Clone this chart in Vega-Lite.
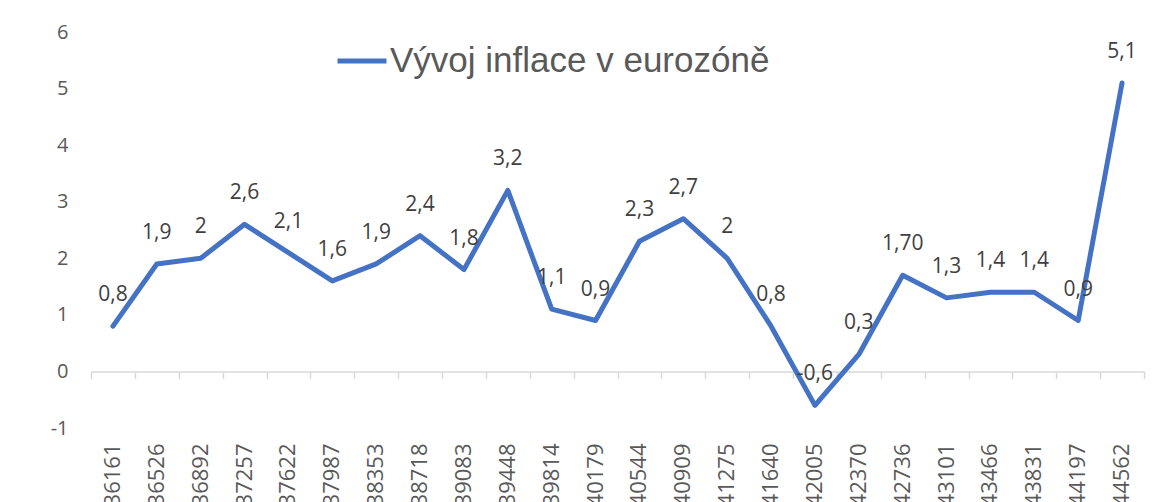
{
  "$schema": "https://vega.github.io/schema/vega-lite/v6.json",
  "width": 1053,
  "height": 396,
  "autosize": {"type": "none"},
  "padding": {"left": 91, "top": 32, "right": 14, "bottom": 74},
  "background": "white",
  "config": {"view": {"stroke": null}, "font": "Open Sans"},
  "data": {
    "values": [
      {"date": "36161", "value": 0.8, "label": "0,8", "series": "Vývoj inflace v eurozóně"},
      {"date": "36526", "value": 1.9, "label": "1,9", "series": "Vývoj inflace v eurozóně"},
      {"date": "36892", "value": 2.0, "label": "2", "series": "Vývoj inflace v eurozóně"},
      {"date": "37257", "value": 2.6, "label": "2,6", "series": "Vývoj inflace v eurozóně"},
      {"date": "37622", "value": 2.1, "label": "2,1", "series": "Vývoj inflace v eurozóně"},
      {"date": "37987", "value": 1.6, "label": "1,6", "series": "Vývoj inflace v eurozóně"},
      {"date": "38353", "value": 1.9, "label": "1,9", "series": "Vývoj inflace v eurozóně"},
      {"date": "38718", "value": 2.4, "label": "2,4", "series": "Vývoj inflace v eurozóně"},
      {"date": "39083", "value": 1.8, "label": "1,8", "series": "Vývoj inflace v eurozóně"},
      {"date": "39448", "value": 3.2, "label": "3,2", "series": "Vývoj inflace v eurozóně"},
      {"date": "39814", "value": 1.1, "label": "1,1", "series": "Vývoj inflace v eurozóně"},
      {"date": "40179", "value": 0.9, "label": "0,9", "series": "Vývoj inflace v eurozóně"},
      {"date": "40544", "value": 2.3, "label": "2,3", "series": "Vývoj inflace v eurozóně"},
      {"date": "40909", "value": 2.7, "label": "2,7", "series": "Vývoj inflace v eurozóně"},
      {"date": "41275", "value": 2.0, "label": "2", "series": "Vývoj inflace v eurozóně"},
      {"date": "41640", "value": 0.8, "label": "0,8", "series": "Vývoj inflace v eurozóně"},
      {"date": "42005", "value": -0.6, "label": "-0,6", "series": "Vývoj inflace v eurozóně"},
      {"date": "42370", "value": 0.3, "label": "0,3", "series": "Vývoj inflace v eurozóně"},
      {"date": "42736", "value": 1.7, "label": "1,70", "series": "Vývoj inflace v eurozóně"},
      {"date": "43101", "value": 1.3, "label": "1,3", "series": "Vývoj inflace v eurozóně"},
      {"date": "43466", "value": 1.4, "label": "1,4", "series": "Vývoj inflace v eurozóně"},
      {"date": "43831", "value": 1.4, "label": "1,4", "series": "Vývoj inflace v eurozóně"},
      {"date": "44197", "value": 0.9, "label": "0,9", "series": "Vývoj inflace v eurozóně"},
      {"date": "44562", "value": 5.1, "label": "5,1", "series": "Vývoj inflace v eurozóně"}
    ]
  },
  "encoding": {
    "y": {
      "field": "value",
      "type": "quantitative",
      "scale": {"domain": [-1, 6], "nice": false, "zero": false},
      "axis": {
        "title": null,
        "values": [-1, 0, 1, 2, 3, 4, 5, 6],
        "labelExpr": "'' + datum.value",
        "domain": false,
        "ticks": false,
        "grid": false,
        "labelFontSize": 20,
        "labelColor": "#595959",
        "labelPadding": 23,
        "labelFont": "Open Sans"
      }
    }
  },
  "layer": [
    {
      "mark": {"type": "line", "strokeWidth": 5, "strokeCap": "round", "strokeJoin": "round"},
      "encoding": {
        "x": {
          "field": "date",
          "type": "ordinal",
          "sort": null,
          "scale": {"type": "band", "paddingInner": 0, "paddingOuter": 0},
          "axis": {
            "orient": "bottom",
            "title": null,
            "domain": false,
            "ticks": false,
            "grid": false,
            "labelAngle": -90,
            "labelFontSize": 22,
            "labelColor": "#595959",
            "labelPadding": 15,
            "labelFont": "Open Sans"
          }
        },
        "color": {
          "field": "series",
          "type": "nominal",
          "scale": {"range": ["#4472C4"]},
          "legend": {
            "title": null,
            "orient": "none",
            "legendX": 244,
            "legendY": 2,
            "padding": 0,
            "symbolType": "stroke",
            "symbolSize": 2401,
            "symbolStrokeWidth": 5,
            "labelFontSize": 35,
            "labelFont": "Liberation Sans",
            "labelColor": "#595959",
            "labelOffset": 1,
            "labelLimit": 0
          }
        }
      }
    },
    {
      "mark": {"type": "text", "dy": -31, "baseline": "middle", "align": "center", "fontSize": 21, "color": "#404040", "font": "Open Sans"},
      "encoding": {
        "x": {
          "field": "date",
          "type": "ordinal",
          "sort": null,
          "scale": {"type": "band", "paddingInner": 0, "paddingOuter": 0},
          "axis": {
            "orient": "bottom",
            "title": null,
            "labels": false,
            "grid": false,
            "domain": true,
            "domainColor": "#d9d9d9",
            "domainWidth": 1.5,
            "ticks": true,
            "tickBand": "extent",
            "tickColor": "#d9d9d9",
            "tickWidth": 1.5,
            "tickSize": 7,
            "offset": -56.57
          }
        },
        "text": {"field": "label", "type": "nominal"}
      }
    }
  ],
  "resolve": {"axis": {"x": "independent"}}
}
